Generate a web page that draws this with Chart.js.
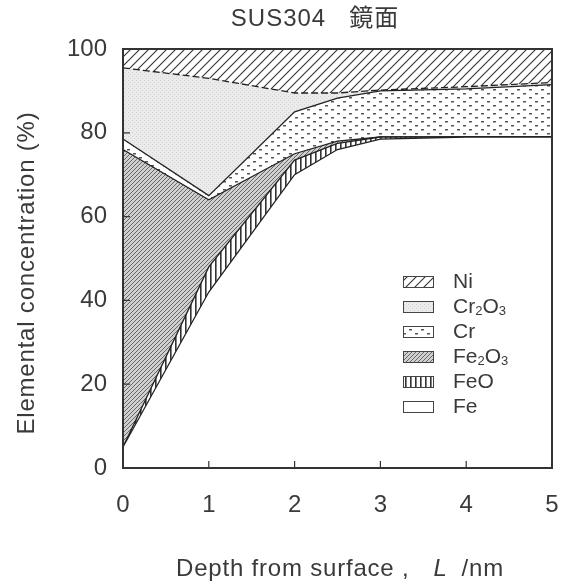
<!DOCTYPE html>
<html>
<head>
<meta charset="utf-8">
<script src="https://cdn.jsdelivr.net/npm/chart.js@4.4.1/dist/chart.umd.min.js"></script>
<style>
  html, body { margin: 0; padding: 0; background: #fff; }
  #wrap { width: 571px; height: 588px; }
</style>
</head>
<body>
<div id="wrap"><canvas id="chart" width="571" height="588"></canvas></div>
<script>
// depth in nm, values in % (each layer, stacked from the bottom)
const depth  = [0, 1, 2, 2.5, 3, 4, 5];
const fe     = [5, 42, 70, 76, 78.5, 79, 79];
const feO    = [0, 6, 3.5, 1.5, 0.5, 0, 0];
const fe2O3  = [71, 16, 1.5, 0.5, 0, 0, 0];
const cr     = [2.5, 1, 10, 10.3, 11, 11.5, 12.5];
const cr2O3  = [17, 28, 4.5, 1.2, 0.2, 0.5, 0.5];
const ni     = [4.5, 7, 10.5, 10.5, 9.8, 9, 8];

const xTicks = [0, 1, 2, 3, 4, 5];
const yTicks = [0, 20, 40, 60, 80, 100];
const layerNames = ["Fe", "FeO", "Fe2O3", "Cr", "Cr2O3", "Ni"];

const FONT = "'Liberation Sans', Arial, sans-serif";
const TXT = "#3a3a3a";

function makePattern(w, h, draw) {
  const c = document.createElement("canvas");
  c.width = w; c.height = h;
  const g = c.getContext("2d");
  draw(g, w, h);
  return g.createPattern(c, "repeat");
}

const patNi = makePattern(9, 9, (g, w, h) => {
  g.fillStyle = "#fff"; g.fillRect(0, 0, w, h);
  g.strokeStyle = "#333"; g.lineWidth = 1.1;
  g.beginPath();
  g.moveTo(-1, h + 1); g.lineTo(w + 1, -1);
  g.moveTo(-1, 1); g.lineTo(1, -1);
  g.moveTo(w - 1, h + 1); g.lineTo(w + 1, h - 1);
  g.stroke();
});
const patCr2O3 = makePattern(4, 4, (g, w, h) => {
  g.fillStyle = "#ebebeb"; g.fillRect(0, 0, w, h);
  g.fillStyle = "#d4d4d4"; g.fillRect(0, 0, 1, 1); g.fillRect(2, 2, 1, 1);
});
const patCr = makePattern(12, 8, (g, w, h) => {
  g.fillStyle = "#fff"; g.fillRect(0, 0, w, h);
  g.fillStyle = "#555";
  g.fillRect(1, 1, 3, 1.5);
  g.fillRect(7, 5, 3, 1.5);
});
const patFe2O3 = makePattern(4, 4, (g, w, h) => {
  g.fillStyle = "#d0d0d0"; g.fillRect(0, 0, w, h);
  g.strokeStyle = "#666"; g.lineWidth = 1;
  g.beginPath();
  g.moveTo(-1, h + 1); g.lineTo(w + 1, -1);
  g.moveTo(-1, 1); g.lineTo(1, -1);
  g.moveTo(w - 1, h + 1); g.lineTo(w + 1, h - 1);
  g.stroke();
});
const patFeO = makePattern(5, 5, (g, w, h) => {
  g.fillStyle = "#fff"; g.fillRect(0, 0, w, h);
  g.fillStyle = "#333"; g.fillRect(0, 0, 1.6, h);
});

function pts(arr) {
  return arr.map((v, i) => ({ x: depth[i], y: v }));
}

const fills = [ "#ffffff", patFeO, patFe2O3, patCr, patCr2O3, patNi ];
const series = [ fe, feO, fe2O3, cr, cr2O3, ni ];

const datasets = series.map((s, i) => ({
  label: layerNames[i],
  data: pts(s),
  backgroundColor: fills[i],
  borderColor: "#222",
  borderWidth: 1.3,
  borderDash: layerNames[i] === "Cr2O3" ? [7, 3] : [],
  pointRadius: 0,
  tension: 0,
  fill: i === 0 ? "origin" : "-1"
}));

// draws text where digits become subscripts (Cr2O3 etc.)
function subText(ctx, str, x, y, size) {
  let cx = x;
  for (const ch of str) {
    if (/[0-9]/.test(ch)) {
      ctx.font = Math.round(size * 0.62) + "px " + FONT;
      ctx.fillText(ch, cx, y + size * 0.22);
    } else {
      ctx.font = size + "px " + FONT;
      ctx.fillText(ch, cx, y);
    }
    cx += ctx.measureText(ch).width;
  }
}

const decor = {
  id: "decor",
  afterDraw(chart) {
    const ctx = chart.ctx;
    const a = chart.chartArea;
    const xs = chart.scales.x, ys = chart.scales.y;
    ctx.save();
    // frame
    ctx.strokeStyle = "#333";
    ctx.lineWidth = 2;
    ctx.strokeRect(a.left, a.top, a.right - a.left, a.bottom - a.top);
    // inner tick marks
    ctx.lineWidth = 1.2;
    ctx.beginPath();
    xTicks.slice(1, -1).forEach(v => {
      const px = xs.getPixelForValue(v);
      ctx.moveTo(px, a.bottom); ctx.lineTo(px, a.bottom - 7);
    });
    yTicks.slice(1, -1).forEach(v => {
      const py = ys.getPixelForValue(v);
      ctx.moveTo(a.left, py); ctx.lineTo(a.left + 7, py);
    });
    ctx.stroke();

    // title
    ctx.fillStyle = TXT;
    ctx.textBaseline = "middle";
    ctx.textAlign = "center";
    ctx.font = "24px " + FONT + ", 'Noto Sans CJK JP'";
    ctx.letterSpacing = "1px";
    ctx.fillText("SUS304   鏡面", 315, 19);

    // axis titles
    ctx.textAlign = "left";
    ctx.letterSpacing = "0.8px";
    const xt = [["Depth from surface ,", ""], ["L", "italic "], ["/nm", ""]];
    const gaps = [0, 24, 14];
    let total = 0;
    const widths = xt.map((p, i) => {
      ctx.font = p[1] + "24px " + FONT;
      const w = ctx.measureText(p[0]).width;
      total += w + gaps[i];
      return w;
    });
    let sx = 340 - total / 2;
    xt.forEach((p, i) => {
      sx += gaps[i];
      ctx.font = p[1] + "24px " + FONT;
      ctx.fillText(p[0], sx, 569);
      sx += widths[i];
    });

    ctx.save();
    ctx.translate(27, 273);
    ctx.rotate(-Math.PI / 2);
    ctx.textAlign = "center";
    ctx.font = "24px " + FONT;
    ctx.fillText("Elemental concentration (%)", 0, 0);
    ctx.restore();
    ctx.letterSpacing = "0px";

    // legend, top to bottom: Ni ... Fe
    const order = chart.data.datasets.slice().reverse();
    order.forEach((ds, i) => {
      const cy = 282 + i * 25;
      ctx.fillStyle = ds.backgroundColor;
      ctx.fillRect(403, cy - 6, 31, 12);
      ctx.strokeStyle = "#444";
      ctx.lineWidth = 1;
      ctx.strokeRect(403.5, cy - 5.5, 30, 11);
      ctx.fillStyle = TXT;
      ctx.textAlign = "left";
      ctx.textBaseline = "middle";
      subText(ctx, ds.label, 453, cy, 21);
    });
    ctx.restore();
  }
};

new Chart(document.getElementById("chart"), {
  type: "line",
  data: { datasets },
  options: {
    responsive: false,
    animation: false,
    layout: { padding: { top: 49, right: 19, left: 0, bottom: 0 } },
    plugins: {
      legend: { display: false },
      tooltip: { enabled: false },
      filler: { propagate: false }
    },
    scales: {
      x: {
        type: "linear",
        min: 0, max: 5,
        afterBuildTicks: s => { s.ticks = xTicks.map(v => ({ value: v })); },
        afterFit: s => { s.height = 120; s.paddingLeft = 0; s.paddingRight = 0; },
        grid: { display: false, drawTicks: false },
        border: { display: false },
        ticks: { color: TXT, font: { family: FONT, size: 24 }, padding: 23 }
      },
      y: {
        stacked: true,
        min: 0, max: 100,
        afterBuildTicks: s => { s.ticks = yTicks.map(v => ({ value: v })); },
        afterFit: s => { s.width = 123; },
        grid: { display: false, drawTicks: false },
        border: { display: false },
        ticks: { color: TXT, font: { family: FONT, size: 24 }, padding: 16 }
      }
    }
  },
  plugins: [decor]
});
</script>
</body>
</html>
